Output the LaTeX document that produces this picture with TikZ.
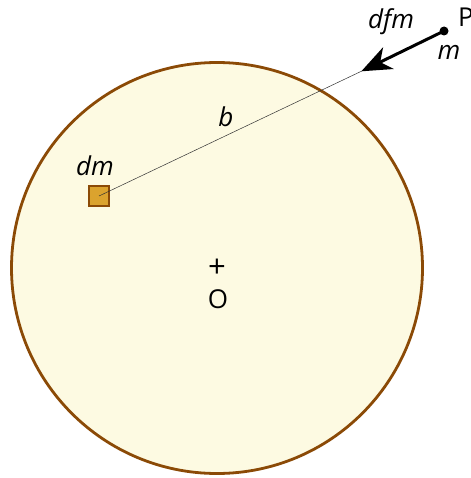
\documentclass[tikz,border=0pt]{standalone}
\usepackage{fontspec}
\setmainfont{Open Sans}
\usetikzlibrary{arrows.meta}
\definecolor{brownline}{HTML}{8B4A06}
\definecolor{discfill}{HTML}{FDFAE2}
\definecolor{goldfill}{HTML}{DBA32E}
\tikzset{
  lbl/.style={font=\fontsize{26}{30}\selectfont\itshape, inner sep=0pt},
  uplbl/.style={font=\fontsize{26}{30}\selectfont, inner sep=0pt},
}
\begin{document}
\begin{tikzpicture}[x=1pt,y=-1pt]
\useasboundingbox (0,0) rectangle (470,478);
\node[circle, draw=brownline, fill=discfill, line width=2.8pt, minimum size=411pt, inner sep=0pt] (disc) at (217,268) {};
\node[draw=brownline, fill=goldfill, line width=2.4pt, minimum size=20pt, inner sep=0pt] (dm) at (99,196) {};
\coordinate (tip) at (364,70);
\node[circle, fill=black, minimum size=9pt, inner sep=0pt] (P) at (444,31) {};
\draw[line width=0.5pt, black!80] (dm.center) -- (tip);
\draw[line width=3pt, -{Stealth[length=30pt,width=24pt,inset=9pt]}, shorten >=-3pt] (P.center) -- (tip);
\node[lbl] (lb) at (226,117) {b};
\node[lbl] (ldm) at (95,166) {dm};
\node[lbl] (ldfm) at (391,22) {dfm};
\node[lbl] (lm) at (449,52) {m};
\node[uplbl, anchor=west] (lP) at (458,17) {P};
\node[font=\fontsize{31}{34}\selectfont, inner sep=0pt] (plus) at (217,268) {+};
\node[uplbl] (lO) at (218,299) {O};
\end{tikzpicture}
\end{document}
